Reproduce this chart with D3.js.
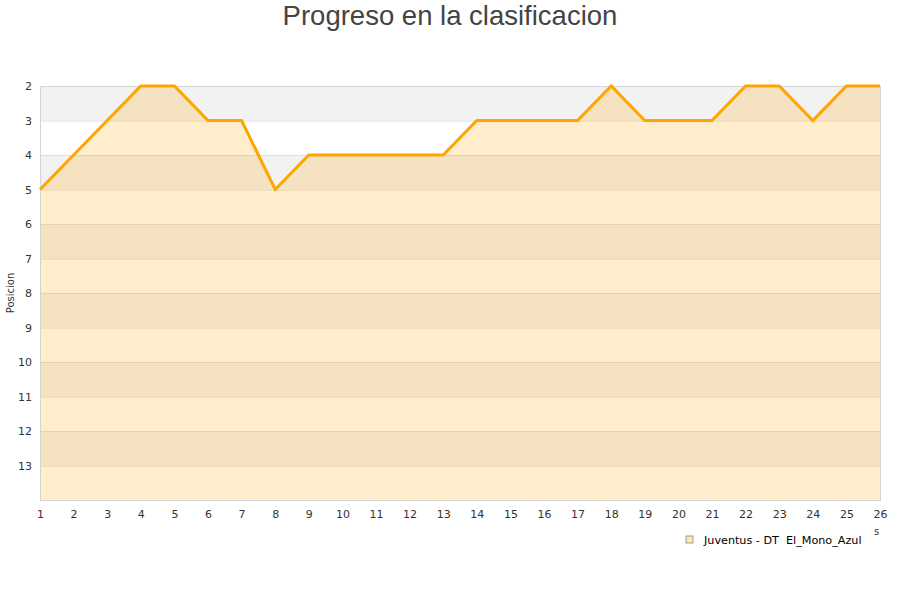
<!DOCTYPE html>
<html>
<head>
<meta charset="utf-8">
<title>Progreso en la clasificacion</title>
<script src="https://cdn.jsdelivr.net/npm/d3@7"></script>
<style>
    body { margin: 0; background: #fff; }
    .tick text { font-family: "DejaVu Sans", sans-serif; font-size: 11px; fill: #333; }
</style>
</head>
<body>
<script>
// datos de la grafica
var jornadas = [1, 2, 3, 4, 5, 6, 7, 8, 9, 10, 11, 12, 13, 14, 15, 16, 17, 18, 19, 20, 21, 22, 23, 24, 25, 26];
var posiciones = [5, 4, 3, 2, 2, 3, 3, 5, 4, 4, 4, 4, 4, 3, 3, 3, 3, 2, 3, 3, 3, 2, 2, 3, 2, 2];
var posTicks = [2, 3, 4, 5, 6, 7, 8, 9, 10, 11, 12, 13];
var serie = "Juventus - DT  El_Mono_Azul";
var titulo = "Progreso en la clasificacion";

var width = 900, height = 600;
var margin = { top: 86, right: 20, bottom: 100, left: 40 };

var svg = d3.select("body").append("svg")
    .attr("width", width)
    .attr("height", height);

var x = d3.scaleLinear()
    .domain([1, 26])
    .range([margin.left, width - margin.right]);

var y = d3.scaleLinear()
    .domain([2, 14])
    .range([margin.top, height - margin.bottom]);

// bandas alternas
var bands = d3.range(2, 14);
svg.append("g").selectAll("rect")
    .data(bands)
    .enter().append("rect")
    .attr("x", x(1))
    .attr("width", x(26) - x(1))
    .attr("y", function (d) { return y(d); })
    .attr("height", function (d) { return y(d + 1) - y(d); })
    .attr("fill", function (d) { return d % 2 === 0 ? "#f2f2f2" : "#ffffff"; });

// lineas de rejilla
svg.append("g").selectAll("line")
    .data(posTicks)
    .enter().append("line")
    .attr("x1", x(1)).attr("x2", x(26))
    .attr("y1", function (d) { return y(d) + 0.5; })
    .attr("y2", function (d) { return y(d) + 0.5; })
    .attr("stroke", "#dedede");

// area bajo la linea
var area = d3.area()
    .x(function (d, i) { return x(jornadas[i]); })
    .y0(y(14))
    .y1(function (d) { return y(d); });

svg.append("path")
    .datum(posiciones)
    .attr("d", area)
    .attr("fill", "#ffa500")
    .attr("fill-opacity", 0.2);

// borde del grafico
svg.append("rect")
    .attr("x", x(1) + 0.5)
    .attr("y", y(2) + 0.5)
    .attr("width", x(26) - x(1))
    .attr("height", y(14) - y(2))
    .attr("fill", "none")
    .attr("stroke", "#d4d4d4");

var line = d3.line()
    .x(function (d, i) { return x(jornadas[i]); })
    .y(function (d) { return y(d); });

svg.append("path")
    .datum(posiciones)
    .attr("d", line)
    .attr("fill", "none")
    .attr("stroke", "#ffa500")
    .attr("stroke-width", 3)
    .attr("stroke-linejoin", "miter");

// ejes
var xAxis = svg.append("g")
    .attr("transform", "translate(0," + (y(14) + 4) + ")")
    .call(d3.axisBottom(x).tickValues(jornadas).tickFormat(d3.format("d")).tickSize(0).tickPadding(6));
xAxis.select(".domain").remove();

var yAxis = svg.append("g")
    .attr("transform", "translate(" + (x(1) - 8) + ",0)")
    .call(d3.axisLeft(y).tickValues(posTicks).tickFormat(d3.format("d")).tickSize(0).tickPadding(0));
yAxis.select(".domain").remove();
yAxis.selectAll(".tick text").attr("dy", "0.35em");

// titulos
svg.append("text")
    .attr("x", width / 2)
    .attr("y", 25)
    .attr("text-anchor", "middle")
    .style("font-family", "'Liberation Sans', Arial, sans-serif")
    .style("font-size", "27.5px")
    .style("fill", "#444")
    .text(titulo);

svg.append("text")
    .attr("transform", "translate(14," + ((y(2) + y(14)) / 2) + ") rotate(-90)")
    .attr("text-anchor", "middle")
    .style("font-family", "'DejaVu Sans', sans-serif")
    .style("font-size", "10px")
    .style("fill", "#333")
    .text("Posicion");

svg.append("text")
    .attr("x", 874)
    .attr("y", 535)
    .style("font-family", "'DejaVu Sans', sans-serif")
    .style("font-size", "10px")
    .style("fill", "#333")
    .text("s");

// leyenda
var legend = svg.append("g")
    .attr("transform", "translate(686,536)");
legend.append("rect")
    .attr("width", 7)
    .attr("height", 7)
    .attr("fill", "#ffe7b3")
    .attr("stroke", "#888")
    .attr("stroke-width", 0.8);
legend.append("text")
    .attr("x", 18)
    .attr("y", 8)
    .style("font-family", "'DejaVu Sans', sans-serif")
    .style("font-size", "11.2px")
    .style("fill", "#000")
    .attr("xml:space", "preserve")
    .text(serie);
</script>
</body>
</html>
